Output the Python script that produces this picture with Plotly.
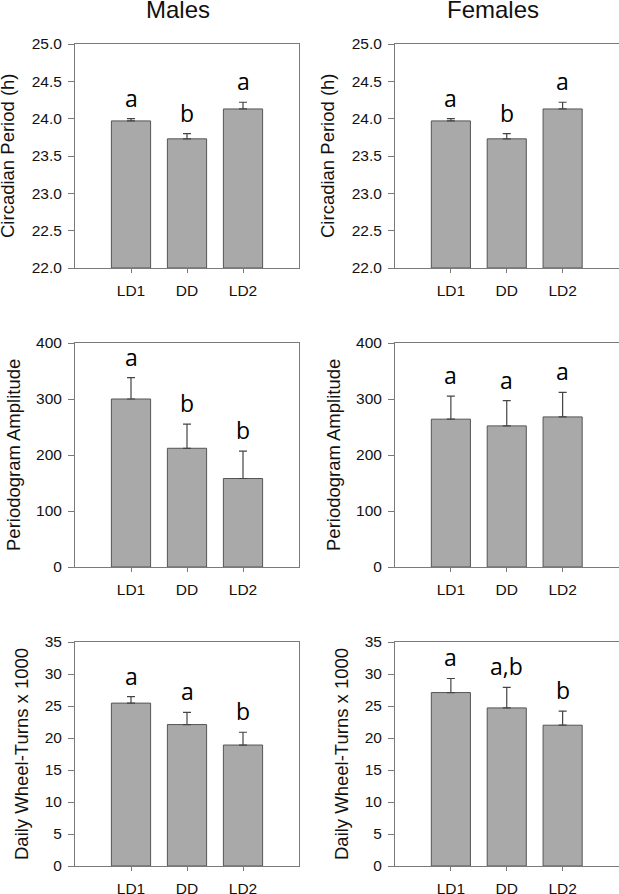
import plotly.graph_objects as go

categories = ["LD1", "DD", "LD2"]

male_period = [23.97, 23.73, 24.13]
male_period_err = [0.03, 0.07, 0.09]
female_period = [23.97, 23.73, 24.13]
female_period_err = [0.03, 0.07, 0.09]

male_amp = [300, 212, 158]
male_amp_err = [38, 43, 49]
female_amp = [264, 252, 268]
female_amp_err = [41, 45, 44]

male_wheel = [25.45, 22.1, 18.9]
male_wheel_err = [1.0, 1.9, 2.0]
female_wheel = [27.1, 24.7, 22.0]
female_wheel_err = [2.2, 3.2, 2.2]

male_period_letters = ["a", "b", "a"]
female_period_letters = ["a", "b", "a"]
male_amp_letters = ["a", "b", "b"]
female_amp_letters = ["a", "a", "a"]
male_wheel_letters = ["a", "a", "b"]
female_wheel_letters = ["a", "a,b", "b"]

column_titles = ["Males", "Females"]
row_titles = ["Circadian Period (h)", "Periodogram Amplitude", "Daily Wheel-Turns x 1000"]
y_ranges = [[22, 25], [0, 400], [0, 35]]
y_dticks = [0.5, 100, 5]
y_formats = [".1f", "d", "d"]

W, H = 619, 894
x_px = [(75, 299), (395, 618.5)]
y_px = [(44, 268), (343, 567), (642, 866)]
title_offsets = [67, 62, 54]

BAR = "#a9a9a9"
EDGE = "#555555"
AXIS = "#7a7a7a"
TFONT = "Liberation Sans, Arial, sans-serif"
LFONT = "Open Sans, Noto Sans, sans-serif"

panels = [
    [(male_period, male_period_err, male_period_letters), (female_period, female_period_err, female_period_letters)],
    [(male_amp, male_amp_err, male_amp_letters), (female_amp, female_amp_err, female_amp_letters)],
    [(male_wheel, male_wheel_err, male_wheel_letters), (female_wheel, female_wheel_err, female_wheel_letters)],
]

fig = go.Figure()
annotations = []
layout = {}
idx = 0
for r in range(3):
    for c in range(2):
        idx += 1
        vals, errs, letters = panels[r][c]
        xa = "x" if idx == 1 else f"x{idx}"
        ya = "y" if idx == 1 else f"y{idx}"
        base = y_ranges[r][0]
        fig.add_trace(go.Bar(
            x=categories, y=[v - base for v in vals], base=base,
            xaxis=xa, yaxis=ya, width=0.7,
            marker=dict(color=BAR, line=dict(color=EDGE, width=1)),
            error_y=dict(type="data", symmetric=False, array=errs,
                         arrayminus=[0] * len(errs), color="#444444",
                         thickness=1.2, width=4),
            showlegend=False, hoverinfo="skip",
        ))
        x0, x1 = x_px[c]
        y0, y1 = y_px[r]
        layout["xaxis" if idx == 1 else f"xaxis{idx}"] = dict(
            domain=[x0 / W, x1 / W], anchor=ya, range=[-1, 3],
            showline=True, linecolor=AXIS, linewidth=1, mirror=True,
            ticks="outside", ticklen=4, tickcolor=AXIS,
            tickfont=dict(family=TFONT, size=15.5, color="#111"),
            ticklabelstandoff=4, showgrid=False, zeroline=False,
            fixedrange=True, automargin=False,
        )
        layout["yaxis" if idx == 1 else f"yaxis{idx}"] = dict(
            domain=[1 - y1 / H, 1 - y0 / H], anchor=xa, range=y_ranges[r],
            dtick=y_dticks[r], tick0=y_ranges[r][0], tickformat=y_formats[r],
            showline=True, linecolor=AXIS, linewidth=1, mirror=True,
            ticks="outside", ticklen=6, tickcolor=AXIS,
            tickfont=dict(family=TFONT, size=15.5, color="#111"),
            ticklabelstandoff=3, showgrid=False, zeroline=False,
            fixedrange=True, automargin=False,
        )
        for cat, v, e, L in zip(categories, vals, errs, letters):
            annotations.append(dict(
                x=cat, y=v + e, xref=xa, yref=ya, text=L, showarrow=False,
                yanchor="bottom", xanchor="center", yshift=3,
                font=dict(family=LFONT, size=23, color="#000"),
            ))
        annotations.append(dict(
            x=(x0 - title_offsets[r]) / W, y=1 - (y0 + y1) / 2 / H,
            xref="paper", yref="paper", text=row_titles[r], textangle=-90,
            showarrow=False, xanchor="center", yanchor="middle",
            font=dict(family=TFONT, size=18.5, color="#111"),
        ))

title_x = [177.5, 493]
for c in range(2):
    annotations.append(dict(
        x=title_x[c] / W, y=1 - 10 / H, xref="paper", yref="paper",
        text=column_titles[c], showarrow=False, xanchor="center", yanchor="middle",
        font=dict(family=TFONT, size=24, color="#111"),
    ))

fig.update_layout(
    template="none",
    width=W, height=H, margin=dict(l=0, r=0, t=0, b=0, autoexpand=False),
    paper_bgcolor="white", plot_bgcolor="white",
    annotations=annotations, bargap=0.3, **layout,
)
fig.write_html(
    "out.html",
    config={"displayModeBar": False},
    post_script="document.body.style.margin='0px';document.body.style.overflow='hidden';",
)
